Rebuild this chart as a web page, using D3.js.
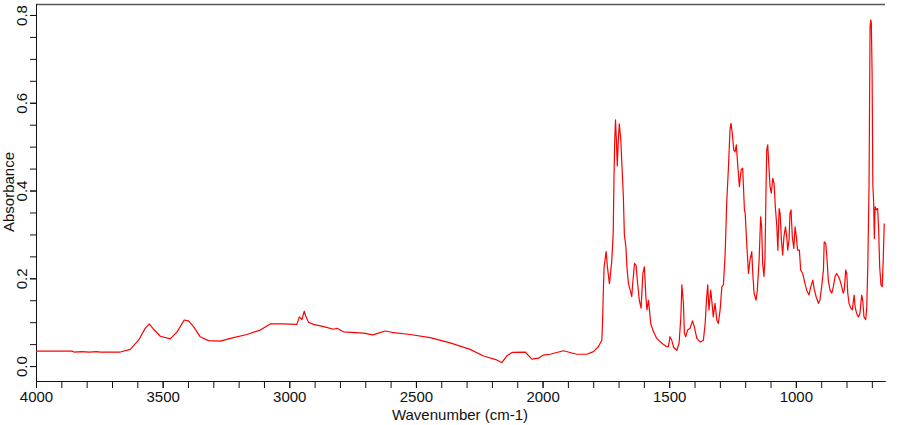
<!DOCTYPE html>
<html>
<head>
<meta charset="utf-8">
<script src="https://cdn.jsdelivr.net/npm/d3@7"></script>
<style>
    body { margin: 0; background: #fff; }
    #chart { width: 900px; height: 425px; }
    text { font-family: "Liberation Sans", Arial, sans-serif; fill: #111; }
</style>
</head>
<body>
<div id="chart"></div>
<script>
// [wavenumber cm-1, absorbance]
const spectrum = [
    [4000, 0.034], [3858, 0.034], [3850, 0.032], [3820, 0.033], [3790, 0.032], [3760, 0.033],
    [3746, 0.032], [3667, 0.032], [3628, 0.038], [3595, 0.059], [3569, 0.086], [3553, 0.096],
    [3536, 0.084], [3509, 0.068], [3470, 0.062], [3443, 0.078], [3415, 0.105], [3398, 0.103],
    [3378, 0.090], [3352, 0.067], [3319, 0.058], [3273, 0.057], [3220, 0.065], [3167, 0.072],
    [3115, 0.082], [3075, 0.096], [3023, 0.096], [2970, 0.095], [2960, 0.112], [2950, 0.106],
    [2941, 0.125], [2933, 0.111], [2924, 0.100], [2904, 0.095], [2865, 0.090], [2825, 0.084],
    [2812, 0.086], [2786, 0.078], [2707, 0.075], [2670, 0.071], [2621, 0.080], [2595, 0.077],
    [2523, 0.072], [2444, 0.065], [2365, 0.053], [2286, 0.038], [2233, 0.023], [2181, 0.014],
    [2161, 0.008], [2141, 0.023], [2121, 0.031], [2069, 0.032], [2042, 0.016], [2016, 0.018],
    [1997, 0.025], [1970, 0.027], [1918, 0.035], [1865, 0.027], [1825, 0.027], [1799, 0.033],
    [1780, 0.044], [1766, 0.059], [1763, 0.105], [1760, 0.173], [1757, 0.226], [1749, 0.261],
    [1744, 0.226], [1736, 0.188], [1727, 0.238], [1721, 0.303], [1718, 0.431], [1715, 0.515],
    [1712, 0.561], [1708, 0.508], [1705, 0.456], [1701, 0.515], [1697, 0.552], [1691, 0.515],
    [1687, 0.462], [1681, 0.386], [1677, 0.299], [1671, 0.272], [1667, 0.226], [1661, 0.188],
    [1654, 0.173], [1648, 0.158], [1644, 0.188], [1637, 0.234], [1631, 0.230], [1626, 0.196],
    [1618, 0.150], [1611, 0.132], [1604, 0.211], [1598, 0.226], [1592, 0.158], [1588, 0.128],
    [1582, 0.150], [1578, 0.128], [1573, 0.097], [1562, 0.078], [1549, 0.063], [1529, 0.052],
    [1510, 0.044], [1503, 0.044], [1497, 0.067], [1490, 0.059], [1483, 0.043], [1470, 0.036],
    [1461, 0.052], [1454, 0.112], [1450, 0.185], [1444, 0.143], [1440, 0.075], [1435, 0.067],
    [1427, 0.082], [1418, 0.086], [1408, 0.103], [1401, 0.090], [1391, 0.063], [1378, 0.055],
    [1365, 0.059], [1358, 0.097], [1352, 0.158], [1348, 0.185], [1343, 0.128], [1336, 0.173],
    [1332, 0.150], [1326, 0.112], [1319, 0.143], [1312, 0.105], [1306, 0.097], [1299, 0.128],
    [1292, 0.181], [1286, 0.185], [1279, 0.257], [1273, 0.371], [1266, 0.454], [1260, 0.538],
    [1256, 0.553], [1251, 0.530], [1245, 0.492], [1240, 0.488], [1235, 0.504], [1229, 0.454],
    [1223, 0.409], [1216, 0.447], [1210, 0.451], [1203, 0.356], [1200, 0.348], [1194, 0.280],
    [1187, 0.211], [1181, 0.242], [1174, 0.261], [1170, 0.211], [1165, 0.166], [1157, 0.150],
    [1152, 0.173], [1145, 0.242], [1139, 0.340], [1135, 0.317], [1131, 0.234], [1126, 0.204],
    [1122, 0.242], [1118, 0.394], [1115, 0.492], [1111, 0.504], [1107, 0.462], [1102, 0.409],
    [1097, 0.394], [1091, 0.428], [1086, 0.416], [1081, 0.363], [1075, 0.317], [1071, 0.264],
    [1066, 0.359], [1062, 0.348], [1057, 0.287], [1052, 0.253], [1047, 0.295], [1041, 0.317],
    [1036, 0.295], [1032, 0.264], [1027, 0.287], [1023, 0.348], [1019, 0.356], [1014, 0.295],
    [1008, 0.268], [1003, 0.317], [998, 0.295], [993, 0.264], [986, 0.264], [981, 0.219],
    [973, 0.211], [964, 0.188], [957, 0.173], [948, 0.162], [941, 0.181], [933, 0.196],
    [928, 0.177], [920, 0.158], [911, 0.143], [905, 0.150], [898, 0.181], [891, 0.219],
    [888, 0.283], [882, 0.280], [877, 0.245], [872, 0.196], [865, 0.173], [858, 0.166],
    [852, 0.181], [845, 0.204], [839, 0.211], [832, 0.204], [826, 0.196], [819, 0.181],
    [813, 0.166], [809, 0.173], [803, 0.219], [799, 0.211], [795, 0.166], [790, 0.143],
    [783, 0.132], [777, 0.128], [770, 0.162], [766, 0.135], [760, 0.120], [753, 0.112],
    [747, 0.120], [740, 0.162], [736, 0.150], [731, 0.112], [724, 0.106], [720, 0.135],
    [716, 0.226], [711, 0.409], [707, 0.773], [704, 0.789], [702, 0.781], [699, 0.671],
    [696, 0.413], [693, 0.378], [690, 0.291], [687, 0.363], [682, 0.356], [677, 0.359],
    [673, 0.310], [669, 0.226], [664, 0.185], [659, 0.181], [655, 0.242], [651, 0.325]
];

const xDomain = [4000, 648];
const yDomain = [-0.034, 0.825];
const xMajorTicks = [4000, 3500, 3000, 2500, 2000, 1500, 1000];
const xMinorTicks = d3.range(4000, 650, -100);
const yMajorTicks = [0, 0.2, 0.4, 0.6, 0.8];
const yMinorTicks = d3.range(0, 0.81, 0.05);

class SpectrumChart {

    constructor(parentElement, data) {
        this.parentElement = parentElement;
        this.data = data;
        this.initVis();
    }

    initVis() {
        let vis = this;
        vis.width = 900;
        vis.height = 425;
        vis.margin = { top: 4, right: 15, bottom: 44, left: 36 };

        vis.svg = d3.select("#" + vis.parentElement).append("svg")
            .attr("width", vis.width)
            .attr("height", vis.height);

        vis.x = d3.scaleLinear()
            .domain(xDomain)
            .range([vis.margin.left, vis.width - vis.margin.right]);

        vis.y = d3.scaleLinear()
            .domain(yDomain)
            .range([vis.height - vis.margin.bottom, vis.margin.top]);

        // top frame line
        vis.svg.append("line")
            .attr("x1", vis.margin.left)
            .attr("x2", vis.width - vis.margin.right)
            .attr("y1", vis.margin.top + 0.5)
            .attr("y2", vis.margin.top + 0.5)
            .attr("stroke", "#555")
            .attr("stroke-width", 1.5);

        // x axis: minor ticks, then labelled major ticks
        let xAxisG = vis.svg.append("g")
            .attr("class", "x-axis")
            .attr("transform", `translate(0, ${vis.height - vis.margin.bottom})`);

        xAxisG.call(d3.axisBottom(vis.x)
            .tickValues(xMinorTicks)
            .tickSize(7)
            .tickSizeOuter(0)
            .tickFormat(""));

        xAxisG.append("g").call(d3.axisBottom(vis.x)
            .tickValues(xMajorTicks)
            .tickSize(7)
            .tickSizeOuter(0)
            .tickFormat(d3.format("d")));

        xAxisG.selectAll("text")
            .style("font-size", "15px")
            .attr("y", 10)
            .attr("dy", "0.71em");

        // y axis
        let yAxisG = vis.svg.append("g")
            .attr("class", "y-axis")
            .attr("transform", `translate(${vis.margin.left}, 0)`);

        yAxisG.call(d3.axisLeft(vis.y)
            .tickValues(yMinorTicks)
            .tickSize(6)
            .tickSizeOuter(0)
            .tickFormat(""));

        yAxisG.append("g").call(d3.axisLeft(vis.y)
            .tickValues(yMajorTicks)
            .tickSize(6)
            .tickSizeOuter(0)
            .tickFormat(d3.format(".1f")));

        yAxisG.selectAll("text")
            .style("font-size", "15px")
            .attr("x", null)
            .attr("dy", null)
            .attr("text-anchor", "middle")
            .attr("transform", "translate(-9, 0) rotate(-90)");

        vis.svg.selectAll(".domain, .tick line")
            .attr("stroke", "#111");

        // axis titles
        vis.svg.append("text")
            .attr("x", 460)
            .attr("y", 420)
            .attr("text-anchor", "middle")
            .style("font-size", "15px")
            .text("Wavenumber (cm-1)");

        vis.svg.append("text")
            .attr("transform", `translate(14, 192) rotate(-90)`)
            .attr("text-anchor", "middle")
            .style("font-size", "15px")
            .text("Absorbance");

        vis.line = d3.line()
            .x(d => vis.x(d[0]))
            .y(d => vis.y(d[1]));

        vis.svg.append("path")
            .datum(vis.data)
            .attr("class", "trace")
            .attr("d", vis.line)
            .attr("fill", "none")
            .attr("stroke", "#ff0000")
            .attr("stroke-width", 1.2)
            .attr("stroke-linejoin", "round");
    }
}

new SpectrumChart("chart", spectrum);
</script>
</body>
</html>
